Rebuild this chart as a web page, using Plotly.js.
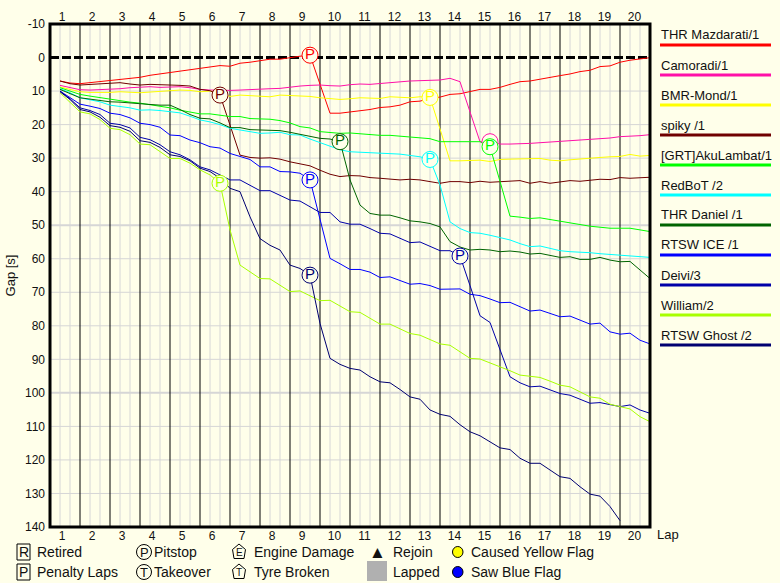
<!DOCTYPE html>
<html><head><meta charset="utf-8">
<script src="https://cdn.plot.ly/plotly-3.0.1.min.js"></script>
<style>html,body{margin:0;padding:0;background:#ffffea;}#chart{width:780px;height:583px;}</style>
</head><body><div id="chart"></div>
<script>
// ---------- data (gap to leader in seconds, one value per sector, 3 sectors per lap) ----------
const laps = [1,2,3,4,5,6,7,8,9,10,11,12,13,14,15,16,17,18,19,20];
const drivers = ['THR Mazdarati/1','Camoradi/1','BMR-Mond/1','spiky /1','[GRT]AkuLambat/1','RedBoT /2','THR Daniel /1','RTSW ICE /1','Deivi/3','William/2','RTSW Ghost /2'];
const colors  = ['#ff0000','#ff10a8','#ffff00','#700000','#00ff00','#00ffff','#006400','#0000ff','#0000a8','#a8ff00','#000070'];

const mazdarati = [7.0,7.6,7.8,7.5,7.2,7.0,6.6,6.2,5.9,5.3, 4.9,4.4,3.9,3.7,3.2,2.7,2.4,2.6,1.7,1.4,
  1.0,0.5,0.5,0.0,-0.4,-0.7,8.0,16.6,16.6,16.3, 15.9,15.5,14.9,14.7,14.2,13.2,13.0,12.2,11.8,11.0,
  10.8,10.2,9.5,9.5,8.9,8.0,7.2,7.0,6.4,5.9, 5.4,4.9,4.2,3.8,2.7,2.5,1.4,0.8,0.5,0.05];
const camoradi = [8.3,9.0,9.6,9.7,9.6,9.4,9.3,9.0,8.9,8.7, 8.9,8.8,8.7,9.0,9.5,9.7,9.8,9.8,9.7,9.5,
  9.5,9.3,9.2,8.8,8.5,8.3,8.2,8.4,8.5,8.1, 7.9,8.0,7.7,7.5,7.2,7.0,6.9,6.8,6.7,6.2,
  7.2,16.2,25.1,25.1,25.8,25.8,25.8,25.6,25.4,25.2, 25.1,24.9,24.6,24.5,24.4,24.0,23.6,23.5,23.3,23.0];
const bmrMond = [8.8,9.6,10.2,10.4,10.5,10.4,10.2,10.4,10.5,10.3, 10.0,9.9,9.7,9.8,10.2,10.0,10.5,11.6,11.2,11.4,
  11.5,11.7,11.2,11.3,11.5,11.6,12.0,12.3,12.5,12.3, 12.0,12.1,12.2,11.7,11.9,12.0,11.7,11.9,21.3,30.8,
  30.8,30.8,30.6,31.0,30.4,30.3,30.2,30.2,30.1,30.6, 30.8,30.5,30.2,30.0,29.8,29.6,29.5,28.9,29.4,29.2];
const spiky = [7.0,7.8,8.2,8.0,7.7,7.6,7.5,7.9,8.2,8.0, 8.0,8.2,8.3,8.5,9.5,9.9,11.2,20.0,29.1,29.8,
  30.0,29.9,30.3,31.1,31.6,32.3,33.6,34.8,35.5,35.2, 35.3,35.8,36.0,36.2,36.5,36.3,36.5,37.0,37.5,37.0,
  37.0,37.3,36.9,37.2,37.0,36.9,36.7,37.5,37.0,37.5, 37.0,36.7,36.9,36.5,36.3,36.4,35.8,36.0,35.8,35.7];
const akuLambat = [9.0,10.0,11.0,11.5,12.0,12.5,13.0,13.3,13.6,14.0, 14.6,15.0,15.7,16.3,16.8,16.8,17.2,17.6,17.6,18.2,
  18.3,18.4,18.8,19.5,20.6,21.0,22.1,22.3,22.6,22.5, 22.8,23.0,23.2,23.2,23.4,23.6,23.9,24.2,25.1,25.1,
  25.1,25.1,25.1,26.6,37.0,47.3,47.6,48.0,47.8,48.3, 49.0,49.4,49.8,50.3,50.6,50.9,50.9,50.9,51.4,51.9];
const redBoT = [9.3,10.5,12.0,12.6,13.2,14.2,14.6,15.0,15.7,15.6, 15.8,16.2,16.5,17.5,18.6,19.2,20.0,21.1,21.6,22.1,
  22.6,22.5,22.3,23.0,23.1,24.3,25.4,26.5,27.5,28.1, 28.2,28.3,28.4,28.7,28.8,29.2,29.6,30.4,38.0,49.0,
  51.0,52.2,52.4,53.0,53.6,54.4,55.5,56.4,56.2,57.0, 57.6,57.9,58.0,58.2,58.5,58.7,58.9,59.0,59.3,59.6];
const daniel = [9.5,10.8,12.0,12.4,12.8,13.2,13.3,13.6,13.9,14.0, 14.2,14.2,15.5,17.0,18.1,18.3,19.5,20.9,20.9,21.5,
  21.6,21.8,21.8,22.3,22.8,23.5,24.1,24.3,25.1,36.5, 44.0,46.5,47.0,47.0,47.8,48.7,49.0,49.5,50.5,54.9,
  56.5,57.4,57.2,57.4,57.9,57.7,58.0,58.6,58.4,59.0, 59.6,59.4,60.2,60.2,59.6,60.4,60.9,60.8,63.5,65.9];
const rtswIce = [10.0,12.0,13.9,14.5,15.2,16.6,17.0,18.0,19.6,20.0, 20.8,23.1,23.3,24.6,25.4,26.6,27.0,28.6,29.6,30.4,
  32.6,32.6,34.0,34.1,34.5,36.5,48.2,59.9,61.5,63.2, 63.2,64.0,65.6,65.4,66.5,67.6,67.4,68.0,69.1,69.0,
  69.0,70.6,71.0,72.0,73.1,73.0,74.3,75.6,75.3,76.3, 77.3,77.1,78.2,79.5,79.2,81.8,82.5,82.2,84.3,85.4];
const deivi = [10.0,12.3,15.0,15.8,17.0,19.6,20.0,21.0,23.8,24.5, 26.0,28.1,29.0,30.5,32.6,33.5,35.0,36.5,36.5,38.0,
  39.7,39.7,41.0,42.5,42.8,44.5,46.2,46.2,49.0,49.7, 49.7,51.0,52.4,52.6,54.0,55.2,55.0,56.3,57.6,57.6,
  59.2,68.0,77.0,79.0,87.0,95.2,97.0,98.2,98.0,99.2, 100.2,100.7,102.0,103.1,102.9,103.6,104.1,103.6,105.1,106.1];
const william = [10.5,13.5,16.2,16.8,18.5,21.1,21.5,23.0,25.8,26.0, 28.0,30.1,30.1,31.5,33.5,35.0,37.5,51.4,61.9,64.0,
  65.9,66.0,68.0,69.8,69.6,71.0,72.5,72.4,74.0,75.8, 76.0,77.8,79.5,79.5,81.0,82.3,82.8,84.0,85.4,85.8,
  87.7,89.7,89.9,91.0,92.3,93.4,94.7,95.0,95.4,96.5, 97.7,98.2,99.8,101.2,101.6,103.4,104.1,104.8,107.1,108.6];
const ghost = [10.2,12.5,15.5,16.2,17.8,20.3,20.8,22.0,24.8,25.3, 26.8,29.0,29.5,30.8,33.0,34.0,36.0,39.0,40.0,47.5,
  54.0,56.0,57.4,61.9,62.9,64.9,79.3,89.7,91.5,92.7, 93.2,95.2,96.7,97.0,99.0,101.2,101.9,105.1,106.4,107.0,
  109.5,111.6,112.8,114.6,116.4,116.9,119.5,121.0,121.0,123.0, 125.0,125.5,128.0,130.2,130.8,133.9,138.1];

const series = [mazdarati, camoradi, bmrMond, spiky, akuLambat, redBoT, daniel, rtswIce, deivi, william, ghost];
// sector (1-based) in which each driver pitted
const pitSector = [26, 44, 38, 17, 44, 38, 29, 26, 41, 17, 26];
const yTicks = [-10,0,10,20,30,40,50,60,70,80,90,100,110,120,130,140];
const keyRow1 = ['Retired','Pitstop','Engine Damage','Rejoin','Caused Yellow Flag'];
const keyRow2 = ['Penalty Laps','Takeover','Tyre Broken','Lapped','Saw Blue Flag'];

// ---------- drawing ----------
const BG = '#ffffea';
const FONT = 'Liberation Sans, Arial, sans-serif';
const TXT = '#111111';
const PX = x => (x - 50) / 600;   // pixel -> paper
const PY = y => (527 - y) / 503;

const traces = [];
series.forEach((vals, k) => {
  traces.push({
    x: vals.map((v, i) => (i + 1) / 3), y: vals, mode: 'lines',
    line: {color: colors[k], width: 1}, hoverinfo: 'skip', showlegend: false
  });
});
series.forEach((vals, k) => {
  const s = pitSector[k];
  const y = vals[s - 1];
  // a marker that is covered by a later driver's marker in the same sector shows only its ring
  const covered = series.some((v2, j) => j > k && pitSector[j] === s && Math.abs(v2[s - 1] - y) < 4);
  traces.push({
    x: [s / 3], y: [y], mode: covered ? 'markers' : 'markers+text', text: covered ? undefined : ['P'],
    textposition: 'middle center', textfont: {family: FONT, size: 15, color: colors[k]},
    marker: {symbol: 'circle', size: 16, color: BG, line: {color: colors[k], width: 1}},
    hoverinfo: 'skip', showlegend: false
  });
});
traces.push({x: [], y: [], xaxis: 'x2', yaxis: 'y', showlegend: false});

const lapTickPos = laps.map(n => n - (n < 10 ? 0.6 : 0.52));

const shapes = [];
yTicks.forEach(v => {
  if (v === -10 || v === 0 || v === 140) return;
  shapes.push({type: 'line', xref: 'paper', yref: 'y', x0: 0, x1: 1, y0: v, y1: v,
    line: {color: '#d6d6d6', width: v % 50 === 0 ? 2 : 1}, layer: 'below'});
});
for (let k = 1; k < 60; k++) {
  if (k % 3 === 0) continue;
  shapes.push({type: 'line', xref: 'x', yref: 'paper', x0: k / 3, x1: k / 3, y0: 0, y1: 1,
    line: {color: '#d6d6d6', width: 1}, layer: 'below'});
}
laps.slice(0, 19).forEach(n => {
  shapes.push({type: 'line', xref: 'x', yref: 'paper', x0: n, x1: n, y0: 0, y1: 1,
    line: {color: '#000', width: 1}, layer: 'below'});
});
shapes.push({type: 'line', xref: 'paper', yref: 'y', x0: 0, x1: 1, y0: 0, y1: 0,
  line: {color: '#000', width: 3, dash: '9px,3px'}, layer: 'below'});
shapes.push({type: 'rect', xref: 'paper', yref: 'paper', x0: 0, x1: 1, y0: 0, y1: 1,
  line: {color: '#000', width: 3}, layer: 'above'});

const annotations = [];
// right-hand driver key
drivers.forEach((name, k) => {
  annotations.push({xref: 'paper', yref: 'paper', x: PX(659), y: PY(35 + 30 * k), xanchor: 'left', yanchor: 'middle',
    text: name, showarrow: false, font: {family: FONT, size: 13, color: TXT}});
  shapes.push({type: 'line', xref: 'paper', yref: 'paper', x0: PX(660), x1: PX(771), y0: PY(45 + 30 * k), y1: PY(45 + 30 * k),
    line: {color: colors[k], width: 3}});
});
annotations.push({xref: 'paper', yref: 'paper', x: PX(655), y: PY(534), xanchor: 'left', yanchor: 'middle',
  text: 'Lap', showarrow: false, font: {family: FONT, size: 13, color: TXT}});

// bottom symbol key
const rowY = [552, 572];
const textX = [35, 152, 252, 391, 469];
[keyRow1, keyRow2].forEach((row, r) => {
  row.forEach((label, c) => {
    annotations.push({xref: 'paper', yref: 'paper', x: PX(textX[c]), y: PY(rowY[r]), xanchor: 'left', yanchor: 'middle',
      text: label, showarrow: false, font: {family: FONT, size: 14, color: TXT}});
  });
});
const letter = (t, cx, cy, size) => annotations.push({xref: 'paper', yref: 'paper', x: PX(cx), y: PY(cy),
  xanchor: 'center', yanchor: 'middle', text: t, showarrow: false, font: {family: FONT, size: size, color: TXT}});
rowY.forEach((cy, r) => {
  shapes.push({type: 'rect', xref: 'paper', yref: 'paper', x0: PX(17), x1: PX(30), y0: PY(cy + 8), y1: PY(cy - 8),
    line: {color: '#000', width: 1}});
  letter(r === 0 ? 'R' : 'P', 23.5, cy, 14);
  shapes.push({type: 'circle', xref: 'paper', yref: 'paper', x0: PX(136.5), x1: PX(151.5), y0: PY(cy + 7.5), y1: PY(cy - 7.5),
    line: {color: '#000', width: 1}});
  letter(r === 0 ? 'P' : 'T', 144, cy, 13);
  const cx = 239;
  const pts = [[cx, cy - 8], [cx + 6.5, cy - 2.5], [cx + 5, cy + 6.5], [cx - 5, cy + 6.5], [cx - 6.5, cy - 2.5]];
  shapes.push({type: 'path', xref: 'paper', yref: 'paper',
    path: 'M' + pts.map(p => PX(p[0]) + ',' + PY(p[1])).join('L') + 'Z', line: {color: '#000', width: 1}});
  letter(r === 0 ? 'E' : 'T', cx, cy + 0.5, 10);
});
letter('▲', 377, rowY[0], 17);
shapes.push({type: 'rect', xref: 'paper', yref: 'paper', x0: PX(367), x1: PX(387), y0: PY(581), y1: PY(561),
  fillcolor: '#b0b0b0', line: {width: 0}});
shapes.push({type: 'circle', xref: 'paper', yref: 'paper', x0: PX(452.5), x1: PX(463), y0: PY(rowY[0] + 5.5), y1: PY(rowY[0] - 5.5),
  fillcolor: '#ffff00', line: {color: '#000', width: 1}});
shapes.push({type: 'circle', xref: 'paper', yref: 'paper', x0: PX(452.5), x1: PX(463), y0: PY(rowY[1] + 5.5), y1: PY(rowY[1] - 5.5),
  fillcolor: '#0000ff', line: {color: '#000', width: 1}});

const tickFont = {family: FONT, size: 12, color: TXT};
const layout = {
  width: 780, height: 583,
  margin: {l: 50, r: 130, t: 24, b: 56, pad: 0},
  paper_bgcolor: BG, plot_bgcolor: BG, showlegend: false,
  xaxis: {range: [0, 20], tickmode: 'array', tickvals: lapTickPos, ticktext: laps.map(String),
    showgrid: false, zeroline: false, showline: false, ticks: '', tickfont: tickFont, fixedrange: true},
  xaxis2: {range: [0, 20], overlaying: 'x', side: 'top', anchor: 'y', tickmode: 'array', tickvals: lapTickPos,
    ticktext: laps.map(String), showgrid: false, zeroline: false, showline: false, ticks: '', tickfont: tickFont, fixedrange: true},
  yaxis: {range: [140, -10], tickmode: 'array', tickvals: yTicks, ticktext: yTicks.map(String),
    showgrid: false, zeroline: false, showline: false, ticks: '', tickfont: tickFont, ticklabelstandoff: 4,
    title: {text: 'Gap [s]', font: {family: FONT, size: 13, color: TXT}, standoff: 6}, fixedrange: true},
  shapes: shapes, annotations: annotations
};
Plotly.newPlot('chart', traces, layout, {displayModeBar: false, staticPlot: true});
</script></body></html>
